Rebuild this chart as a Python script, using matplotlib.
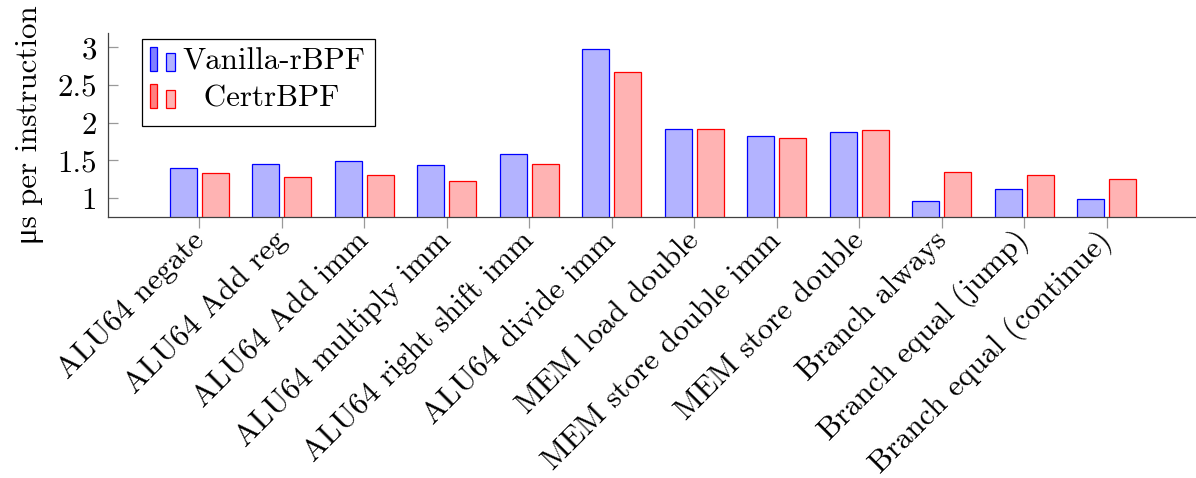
import numpy as np
import matplotlib
matplotlib.use("Agg")
import matplotlib.pyplot as plt
from matplotlib.patches import Rectangle
from matplotlib.container import BarContainer
from matplotlib.legend_handler import HandlerBase
from matplotlib.ticker import FuncFormatter

plt.rcParams["font.family"] = ["cmr10", "Liberation Serif", "DejaVu Serif"]
plt.rcParams["axes.formatter.use_mathtext"] = True

categories = [
    "ALU64 negate", "ALU64 Add reg", "ALU64 Add imm", "ALU64 multiply imm",
    "ALU64 right shift imm", "ALU64 divide imm", "MEM load double",
    "MEM store double imm", "MEM store double", "Branch always",
    "Branch equal (jump)", "Branch equal (continue)",
]
vanilla = [1.39, 1.45, 1.49, 1.44, 1.58, 2.98, 1.91, 1.82, 1.88, 0.96, 1.12, 0.99]
certr = [1.33, 1.28, 1.30, 1.23, 1.45, 2.67, 1.92, 1.80, 1.90, 1.34, 1.31, 1.25]
yticks = [1, 1.5, 2, 2.5, 3]


class BarPairHandler(HandlerBase):
    # pgfplots style ybar legend image: two small bars of unequal height
    def __init__(self, dark):
        super().__init__()
        self.dark = dark

    def create_artists(self, legend, orig_handle, xdescent, ydescent,
                       width, height, fontsize, trans):
        p = orig_handle.patches[0]
        fc = p.get_facecolor()
        ec = p.get_edgecolor()
        r1 = Rectangle((-xdescent, -ydescent), width * 0.30, height,
                       facecolor=self.dark[orig_handle.get_label()],
                       edgecolor=ec, linewidth=0.9, transform=trans)
        r2 = Rectangle((-xdescent + width * 0.66, -ydescent), width * 0.33,
                       height * 0.74, facecolor=fc, edgecolor=ec,
                       linewidth=0.9, transform=trans)
        return [r1, r2]


fs = 22.3
fig = plt.figure(figsize=(11.96, 4.78), dpi=100)
ax = fig.add_axes([0.0905, 0.5467, 0.9095, 0.3843])

x = np.arange(len(categories))
bw = 0.327
b1 = ax.bar(x - 0.194, vanilla, bw, facecolor="#b3b3ff",
            edgecolor="blue", linewidth=0.9, label="Vanilla-rBPF")
b2 = ax.bar(x + 0.194, certr, bw, facecolor="#ffb3b3",
            edgecolor="red", linewidth=0.9, label="CertrBPF")

ax.set_xlim(-1.106, 12.08)
ax.set_ylim(0.75, 3.19)
ax.set_yticks(yticks)
ax.yaxis.set_major_formatter(FuncFormatter(lambda v, p: "%g" % v))
ax.set_xticks(x)
ax.set_xticklabels(categories, rotation=45, ha="right", va="center",
                   rotation_mode="anchor", fontsize=fs)
ax.tick_params(axis="y", labelsize=fs, direction="in", length=7,
               color="#999999", width=0.9, pad=8)
ax.tick_params(axis="x", direction="out", length=8, color="#999999",
               width=0.9, pad=6)
for s in ["top", "right"]:
    ax.spines[s].set_visible(False)
for s in ["left", "bottom"]:
    ax.spines[s].set_color("#404040")
    ax.spines[s].set_linewidth(0.9)

ax.set_ylabel("\u03bcs per instruction", fontsize=fs, labelpad=10)

# legend frame drawn separately so its padding can match the original
ax.add_patch(Rectangle((0.0312, 0.4937), 0.2144, 0.472, transform=ax.transAxes,
                       facecolor="white", edgecolor="black", linewidth=0.9,
                       clip_on=False, zorder=4.5))
dark = {"Vanilla-rBPF": "#8080ff", "CertrBPF": "#ff8080"}
leg = ax.legend(handles=[b1, b2], labels=["Vanilla-rBPF", "  CertrBPF"],
                handler_map={BarContainer: BarPairHandler(dark)},
                loc="upper left", bbox_to_anchor=(0.0312, 0.966),
                borderaxespad=0, fontsize=fs, frameon=False,
                handlelength=0.81, handleheight=0.84, handletextpad=0.25,
                labelspacing=0.25, borderpad=0.25)

fig.savefig("out.png", dpi=100)
